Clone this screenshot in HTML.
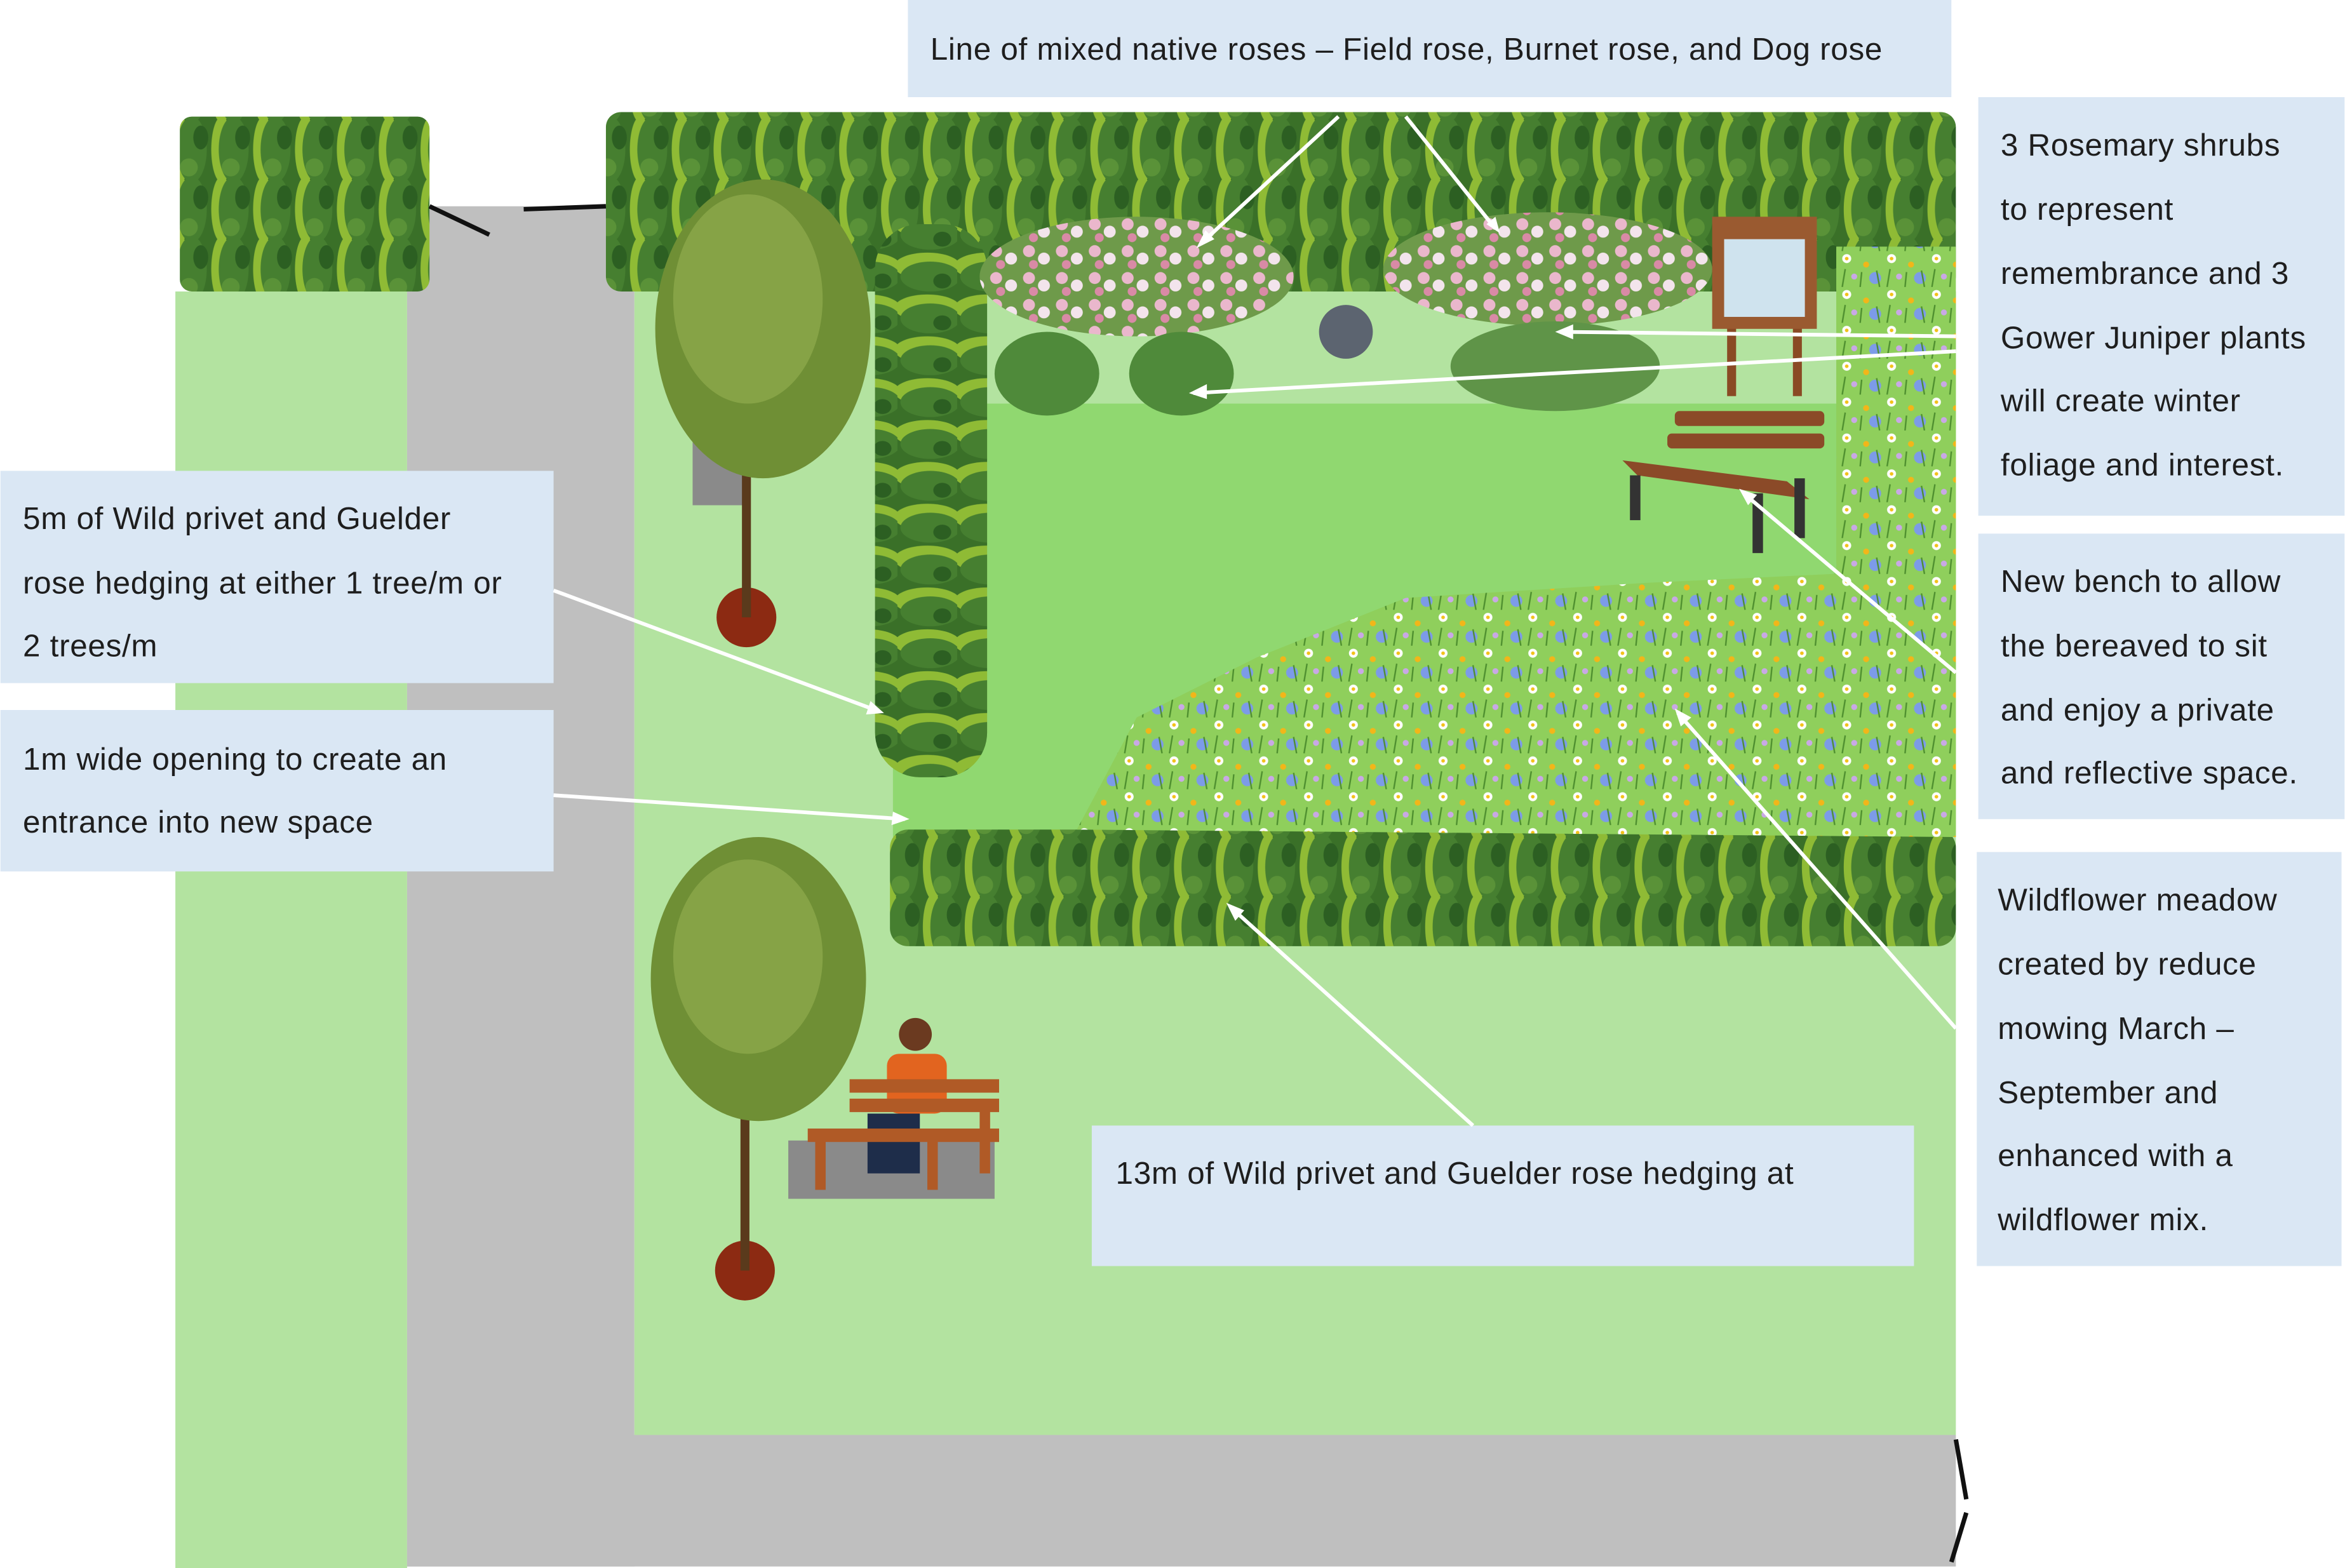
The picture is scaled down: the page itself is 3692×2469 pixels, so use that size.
<!DOCTYPE html>
<html><head><meta charset="utf-8"><style>
html,body{margin:0;padding:0;background:#fff;}
svg{display:block;}
text{font-family:"Liberation Sans",sans-serif;font-size:21px;letter-spacing:0.3px;fill:#1e1e1e;}
</style></head><body>
<svg width="3692" height="2469" viewBox="0 0 1568 1049" xmlns="http://www.w3.org/2000/svg">
<defs>
<pattern id="hedge" width="28" height="40" patternUnits="userSpaceOnUse">
<rect width="28" height="40" fill="#3a7028"/>
<ellipse cx="8" cy="20" rx="7" ry="22" fill="#8fbb35"/>
<ellipse cx="16" cy="20" rx="10" ry="22" fill="#467f30"/>
<ellipse cx="22" cy="12" rx="5" ry="8" fill="#2c5f22"/>
<ellipse cx="14" cy="32" rx="6" ry="6" fill="#5a9238"/>
</pattern>
<pattern id="vhedge" width="40" height="28" patternUnits="userSpaceOnUse">
<rect width="40" height="28" fill="#3a7028"/>
<ellipse cx="20" cy="10" rx="22" ry="9" fill="#8fbb35"/>
<ellipse cx="22" cy="17" rx="20" ry="10" fill="#467f30"/>
<ellipse cx="30" cy="20" rx="6" ry="5" fill="#2c5f22"/>
</pattern>
<pattern id="meadow" width="30" height="24" patternUnits="userSpaceOnUse">
<rect width="30" height="24" fill="#8fcf5c"/>
<circle cx="5" cy="5" r="3" fill="#fff"/><circle cx="5" cy="5" r="1.2" fill="#f2c21b"/>
<circle cx="18" cy="9" r="2" fill="#f2b619"/>
<circle cx="24" cy="18" r="4" fill="#7c9be8"/>
<circle cx="10" cy="17" r="2" fill="#c9a8e6"/>
<path d="M2 24 L4 12 M14 24 L15 14 M27 24 L25 13" stroke="#4e8f2f" stroke-width="1"/>
</pattern>
<pattern id="roses" width="22" height="18" patternUnits="userSpaceOnUse">
<rect width="22" height="18" fill="#6e9a4a"/>
<circle cx="6" cy="6" r="4" fill="#eab7cc"/><circle cx="16" cy="11" r="4" fill="#f3e4ec"/><circle cx="9" cy="15" r="3" fill="#d98aa6"/>
</pattern>
</defs>
<rect x="117" y="195" width="155" height="854" fill="#b3e3a0"/>
<rect x="424" y="195" width="884" height="765" fill="#b3e3a0"/>
<rect x="272" y="138" width="152" height="910" fill="#bfbfbf"/>
<rect x="272" y="960" width="1036" height="88" fill="#bfbfbf"/>
<rect x="597" y="195" width="711" height="365" fill="#90d870"/>
<rect x="640" y="195" width="590" height="75" fill="#b3e3a0"/>
<rect x="1230" y="195" width="78" height="365" fill="#b3e3a0" opacity="0.5"/>
<rect x="120" y="78" width="167" height="117" rx="8" fill="url(#hedge)"/>
<rect x="405" y="75" width="903" height="120" rx="10" fill="url(#hedge)"/>
<rect x="585" y="150" width="75" height="370" rx="30" fill="url(#vhedge)"/>
<rect x="595" y="555" width="713" height="78" rx="12" fill="url(#hedge)"/>
<path d="M720 555 L760 480 L840 440 L940 400 L1100 390 L1308 380 L1308 560 Z" fill="url(#meadow)"/>
<rect x="1228" y="165" width="80" height="230" fill="url(#meadow)"/>
<ellipse cx="760" cy="185" rx="105" ry="40" fill="url(#roses)"/>
<ellipse cx="1035" cy="180" rx="110" ry="38" fill="url(#roses)"/>
<ellipse cx="700" cy="250" rx="35" ry="28" fill="#4f8a3a"/>
<ellipse cx="790" cy="250" rx="35" ry="28" fill="#4f8a3a"/>
<ellipse cx="1040" cy="245" rx="70" ry="30" fill="#5f9448"/>
<circle cx="900" cy="222" r="18" fill="#5c6470"/>
<rect x="1155" y="200" width="6" height="65" fill="#8a4a24"/><rect x="1199" y="200" width="6" height="65" fill="#8a4a24"/>
<rect x="1145" y="145" width="70" height="75" fill="#9a5a30"/><rect x="1153" y="160" width="54" height="52" fill="#cfe3ee"/>
<g fill="#8b4a28">
<rect x="1120" y="275" width="100" height="10" rx="3"/><rect x="1115" y="290" width="105" height="10" rx="3"/>
<polygon points="1085,308 1195,322 1210,334 1095,318"/>
</g>
<g fill="#333"><rect x="1090" y="318" width="7" height="30"/><rect x="1172" y="330" width="7" height="40"/><rect x="1200" y="320" width="7" height="40"/></g>
<rect x="463" y="290" width="34" height="48" fill="#8a8a8a"/>
<circle cx="499" cy="413" r="20" fill="#8c2a12"/><rect x="496" y="250" width="6" height="163" fill="#5a3a1c"/>
<ellipse cx="510" cy="220" rx="72" ry="100" fill="#6f8f35"/><ellipse cx="500" cy="200" rx="50" ry="70" fill="#86a346"/>
<circle cx="498" cy="850" r="20" fill="#8c2a12"/><rect x="495" y="690" width="6" height="160" fill="#5a3a1c"/>
<ellipse cx="507" cy="655" rx="72" ry="95" fill="#6f8f35"/><ellipse cx="500" cy="640" rx="50" ry="65" fill="#86a346"/>
<rect x="527" y="763" width="138" height="39" fill="#8a8a8a"/>
<circle cx="612" cy="692" r="11" fill="#6b3a20"/>
<rect x="593" y="705" width="40" height="40" rx="8" fill="#e2641f"/>
<rect x="580" y="745" width="35" height="40" fill="#1e2d4a"/>
<g fill="#b05a26"><rect x="568" y="722" width="100" height="9"/><rect x="568" y="735" width="100" height="9"/><rect x="540" y="755" width="128" height="9"/>
<rect x="545" y="760" width="7" height="36"/><rect x="655" y="735" width="7" height="50"/><rect x="620" y="760" width="7" height="36"/></g>
<g fill="#dae7f4">
<rect x="607" y="0" width="698" height="65"/>
<rect x="1323" y="65" width="245" height="280"/>
<rect x="1323" y="357" width="245" height="191"/>
<rect x="1322" y="570" width="244" height="277"/>
<rect x="0" y="315" width="370" height="142"/>
<rect x="0" y="475" width="370" height="108"/>
<rect x="730" y="753" width="550" height="94"/>
</g>
<g>
<text x="622" y="40">Line of mixed native roses – Field rose, Burnet rose, and Dog rose</text>
<text x="1338" y="104">3 Rosemary shrubs</text>
<text x="1338" y="147">to represent</text>
<text x="1338" y="190">remembrance and 3</text>
<text x="1338" y="233">Gower Juniper plants</text>
<text x="1338" y="275">will create winter</text>
<text x="1338" y="318">foliage and interest.</text>
<text x="1338" y="396">New bench to allow</text>
<text x="1338" y="439">the bereaved to sit</text>
<text x="1338" y="482">and enjoy a private</text>
<text x="1338" y="524">and reflective space.</text>
<text x="1336" y="609">Wildflower meadow</text>
<text x="1336" y="652">created by reduce</text>
<text x="1336" y="695">mowing March –</text>
<text x="1336" y="738">September and</text>
<text x="1336" y="780">enhanced with a</text>
<text x="1336" y="823">wildflower mix.</text>
<text x="15" y="354">5m of Wild privet and Guelder</text>
<text x="15" y="397">rose hedging at either 1 tree/m or</text>
<text x="15" y="439">2 trees/m</text>
<text x="15" y="515">1m wide opening to create an</text>
<text x="15" y="557">entrance into new space</text>
<text x="746" y="792">13m of Wild privet and Guelder rose hedging at</text>
</g>
<g stroke="#fff" stroke-width="2.5" fill="none">
<line x1="895" y1="78" x2="803" y2="163"/><line x1="940" y1="78" x2="1000" y2="153"/>
<line x1="1308" y1="225" x2="1043" y2="222"/><line x1="1308" y1="235" x2="798" y2="263"/>
<line x1="1308" y1="450" x2="1166" y2="330"/><line x1="1308" y1="688" x2="1122" y2="477"/>
<line x1="985" y1="753" x2="823" y2="607"/><line x1="370" y1="395" x2="588" y2="476"/>
<line x1="370" y1="532" x2="605" y2="548"/>
</g>
<g fill="#fff">
<polygon points="800,166 806,154 812,160"/><polygon points="1003,156 994,150 1000,145"/>
<polygon points="1040,222 1052,217 1052,227"/><polygon points="795,263 807,257 807,267"/>
<polygon points="1163,327 1175,331 1169,338"/><polygon points="1120,474 1124,486 1131,480"/>
<polygon points="820,604 826,616 832,609"/><polygon points="591,477 579,478 582,469"/>
<polygon points="608,548 596,552 597,543"/>
</g>
<g stroke="#111" stroke-width="3">
<line x1="287" y1="138" x2="327" y2="157"/><line x1="350" y1="140" x2="405" y2="138"/>
<line x1="1308" y1="963" x2="1315" y2="1003"/><line x1="1315" y1="1012" x2="1305" y2="1045"/>
</g>
</svg>
</body></html>
